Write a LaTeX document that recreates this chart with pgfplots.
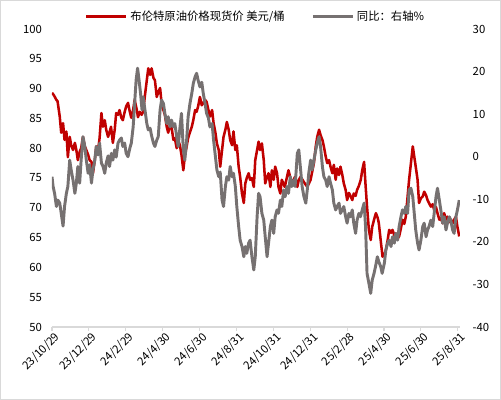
\documentclass[border=0pt]{standalone}
\usepackage{fontspec}
\setmainfont{Noto Sans CJK SC}
\usepackage{pgfplots}
\pgfplotsset{compat=1.18}
\usepackage{pgfplotstable}

\definecolor{brent}{RGB}{192,0,0}
\definecolor{yoy}{RGB}{118,113,113}
\definecolor{frame}{RGB}{217,217,217}

% x: position in tick intervals (0 = 23/10/29, 11 = 25/8/31)
\pgfplotstableread{
t v
0.00 89.3
0.05 88.9
0.12 88.1
0.15 87.9
0.21 85.3
0.25 82.6
0.30 84.2
0.34 81.4
0.39 82.8
0.43 78.5
0.48 81.9
0.52 80.5
0.57 79.7
0.62 80.9
0.66 79.7
0.70 78.0
0.75 79.4
0.79 80.0
0.84 81.9
0.89 80.3
0.93 79.7
0.98 78.9
1.02 78.0
1.07 77.7
1.11 75.8
1.16 78.0
1.20 80.3
1.25 79.7
1.29 81.7
1.34 85.9
1.38 83.6
1.43 84.7
1.47 83.1
1.52 81.9
1.56 82.7
1.60 83.6
1.65 80.9
1.70 83.1
1.74 85.9
1.79 85.6
1.83 86.4
1.88 85.1
1.92 84.7
1.97 86.1
2.01 87.0
2.06 87.6
2.11 86.1
2.15 85.1
2.20 86.4
2.24 88.1
2.30 86.4
2.33 85.2
2.38 86.1
2.43 85.6
2.47 86.1
2.52 88.9
2.57 91.4
2.61 93.4
2.66 92.3
2.70 93.4
2.75 91.8
2.79 91.4
2.84 88.6
2.88 89.4
2.93 90.1
2.97 87.6
3.02 86.4
3.06 85.6
3.11 83.6
3.15 82.6
3.20 83.9
3.24 83.6
3.29 81.4
3.33 81.7
3.38 80.0
3.42 81.4
3.47 80.4
3.51 78.9
3.56 76.3
3.60 78.6
3.65 80.3
3.69 81.7
3.74 82.7
3.79 83.6
3.83 84.7
3.88 86.4
3.92 86.1
3.96 87.0
4.01 88.6
4.06 87.2
4.10 87.6
4.15 88.1
4.19 87.8
4.24 86.4
4.28 85.3
4.34 86.4
4.38 84.2
4.43 82.6
4.47 80.8
4.52 79.7
4.56 76.9
4.61 79.7
4.65 81.9
4.70 83.1
4.74 84.4
4.79 83.1
4.83 81.4
4.88 80.5
4.92 82.8
4.97 79.7
5.01 80.5
5.06 76.9
5.10 75.2
5.15 72.4
5.20 70.8
5.24 74.1
5.28 75.0
5.33 75.8
5.37 74.7
5.42 75.0
5.47 73.5
5.51 78.0
5.56 79.7
5.60 81.1
5.64 79.7
5.69 80.8
5.74 78.0
5.78 74.1
5.83 75.2
5.87 75.8
5.92 73.5
5.96 76.3
6.01 74.7
6.05 76.9
6.10 75.8
6.14 73.5
6.19 72.4
6.23 74.7
6.31 73.5
6.41 76.3
6.50 74.1
6.59 75.2
6.65 73.5
6.69 74.7
6.74 75.2
6.83 74.3
6.92 73.5
7.01 74.7
7.10 77.5
7.15 80.3
7.19 81.9
7.24 83.1
7.28 82.2
7.33 81.4
7.37 80.3
7.42 78.6
7.46 77.5
7.51 78.0
7.55 76.9
7.60 75.8
7.64 77.2
7.69 74.7
7.73 76.6
7.78 75.5
7.82 76.9
7.87 75.5
7.91 74.1
7.96 73.0
8.00 71.3
8.05 72.5
8.09 72.0
8.14 71.3
8.18 72.4
8.23 72.0
8.27 73.0
8.32 73.7
8.37 74.7
8.41 76.3
8.46 77.7
8.50 73.8
8.54 70.2
8.59 66.3
8.64 64.6
8.68 66.8
8.73 68.0
8.78 69.1
8.83 68.3
8.86 67.4
8.92 64.0
8.96 61.8
9.01 62.1
9.05 62.9
9.10 64.6
9.14 66.3
9.19 65.8
9.23 66.3
9.28 65.4
9.32 65.7
9.37 64.9
9.41 65.2
9.46 66.6
9.50 68.0
9.55 67.3
9.59 68.5
9.64 71.9
9.68 74.7
9.73 77.5
9.78 80.3
9.82 78.6
9.86 76.9
9.91 74.7
9.95 70.8
10.00 71.6
10.05 71.9
10.09 72.7
10.14 72.1
10.18 71.3
10.22 70.8
10.27 70.2
10.32 70.6
10.36 69.6
10.41 70.1
10.45 69.1
10.50 68.0
10.54 68.3
10.59 67.4
10.63 69.1
10.68 68.0
10.72 68.5
10.77 67.6
10.81 68.0
10.86 67.4
10.90 68.0
10.95 68.5
10.99 66.8
11.04 65.2
}\brenttable

\pgfplotstableread{
t r
0.00 -4.7
0.03 -7.0
0.07 -8.6
0.12 -11.7
0.16 -10.2
0.21 -10.9
0.25 -13.3
0.30 -16.3
0.34 -11.7
0.39 -8.6
0.43 -7.0
0.48 -0.8
0.52 -3.1
0.57 -5.5
0.62 -8.6
0.66 -6.2
0.70 -2.3
0.75 -6.2
0.79 -0.8
0.84 4.7
0.89 2.4
0.93 -0.8
0.98 -3.9
1.02 -1.9
1.07 -6.2
1.11 -3.1
1.16 -0.8
1.20 2.4
1.25 0.4
1.29 3.2
1.34 -1.5
1.38 -2.2
1.43 -3.9
1.47 -1.5
1.52 0.2
1.56 -2.3
1.61 0.8
1.65 -0.8
1.70 1.6
1.74 -0.1
1.79 3.2
1.83 3.9
1.88 4.4
1.92 2.4
1.97 3.2
2.01 0.8
2.06 0.0
2.11 2.0
2.15 3.2
2.20 7.0
2.24 12.5
2.28 18.0
2.32 20.8
2.36 18.0
2.40 14.9
2.44 11.0
2.47 14.1
2.52 11.0
2.57 7.8
2.61 6.3
2.66 6.7
2.70 4.9
2.75 3.2
2.79 2.4
2.84 3.9
2.88 4.7
2.93 11.0
2.97 13.3
3.02 12.5
3.06 10.2
3.11 7.8
3.15 9.4
3.20 7.0
3.24 8.6
3.29 7.0
3.33 7.8
3.38 4.7
3.42 2.4
3.47 7.0
3.51 10.2
3.56 1.6
3.60 -0.8
3.65 3.9
3.69 9.4
3.74 12.5
3.79 14.9
3.83 17.2
3.88 18.8
3.92 19.6
3.96 18.0
4.01 16.4
4.06 17.5
4.10 14.9
4.15 12.5
4.19 10.2
4.24 9.1
4.28 7.0
4.34 7.8
4.38 3.9
4.43 0.0
4.47 -3.1
4.52 -4.7
4.56 -3.6
4.61 -10.2
4.65 -11.7
4.70 -7.0
4.74 -4.7
4.79 -5.5
4.83 -2.3
4.88 -4.7
4.92 -3.9
4.97 -7.0
5.01 -11.7
5.06 -16.4
5.10 -19.6
5.15 -21.1
5.20 -23.5
5.24 -21.1
5.28 -22.7
5.33 -20.3
5.37 -19.6
5.42 -23.5
5.47 -26.6
5.51 -23.5
5.56 -14.1
5.60 -8.6
5.64 -9.4
5.69 -13.3
5.74 -14.9
5.78 -18.8
5.83 -23.5
5.87 -20.3
5.92 -16.4
5.96 -14.9
6.01 -18.0
6.05 -14.1
6.10 -12.5
6.14 -13.3
6.19 -10.2
6.23 -11.7
6.28 -7.8
6.32 -9.4
6.37 -7.0
6.41 -8.6
6.46 -4.7
6.50 -7.0
6.55 -5.5
6.59 -7.0
6.65 0.8
6.69 1.6
6.74 -3.1
6.78 -7.0
6.83 -9.4
6.88 -10.9
6.92 -7.8
6.96 -3.9
7.01 -0.8
7.05 -3.1
7.10 -0.8
7.15 1.6
7.19 3.2
7.24 4.7
7.28 2.4
7.33 -2.3
7.37 -4.7
7.42 -5.5
7.46 -7.0
7.51 -4.7
7.55 -6.2
7.60 -7.8
7.64 -10.9
7.69 -12.5
7.73 -11.7
7.78 -10.9
7.82 -13.3
7.87 -12.5
7.91 -11.7
7.96 -14.1
8.00 -15.6
8.05 -13.3
8.09 -14.1
8.14 -12.5
8.18 -15.6
8.23 -18.0
8.27 -14.9
8.32 -13.3
8.36 -14.1
8.41 -12.5
8.46 -10.9
8.50 -16.4
8.54 -27.4
8.59 -29.7
8.64 -32.1
8.68 -29.0
8.73 -27.4
8.77 -25.8
8.82 -23.5
8.86 -24.7
8.91 -25.8
8.95 -27.4
9.01 -25.0
9.05 -21.9
9.10 -20.3
9.14 -19.6
9.19 -21.1
9.23 -18.8
9.28 -20.3
9.32 -18.0
9.37 -19.6
9.41 -16.4
9.46 -14.1
9.50 -12.5
9.55 -13.3
9.59 -11.7
9.64 -13.3
9.68 -7.8
9.73 -7.4
9.78 -9.4
9.82 -13.3
9.86 -17.2
9.91 -20.3
9.95 -21.9
10.00 -19.6
10.05 -16.4
10.09 -15.6
10.14 -18.8
10.18 -17.2
10.22 -16.4
10.27 -14.9
10.32 -16.4
10.36 -13.3
10.41 -9.4
10.45 -7.4
10.50 -10.2
10.54 -12.5
10.59 -15.6
10.63 -14.1
10.68 -17.2
10.72 -15.6
10.77 -14.1
10.81 -14.9
10.86 -17.2
10.90 -18.0
10.95 -14.1
10.99 -12.5
11.04 -10.2
}\yoytable

\pgfplotsset{
  common/.style={
    scale only axis,
    width=306pt, height=223.5pt,
    xmin=0, xmax=11.06,
    /pgf/number format/assume math mode=true,
    tick label style={font=\fontsize{8.5}{10}\selectfont},
  },
}

\begin{document}
\begin{tikzpicture}[font=\fontsize{8.5}{10}\selectfont]
\useasboundingbox (-39pt,-54.75pt) rectangle (336.75pt,245.25pt);
\draw[frame, line width=1pt] (-38.5pt,-54.25pt) rectangle (336.25pt,244.75pt);

\begin{axis}[
  common,
  ymin=50, ymax=100,
  ytick={50,55,...,100},
  axis x line*=bottom,
  axis y line*=left,
  x axis line style={draw=frame, line width=0.8pt, -},
  y axis line style={draw=none},
  ytick style={draw=none},
  xtick={0,...,11},
  xticklabels={23/10/29,23/12/29,24/2/29,24/4/30,24/6/30,24/8/31,24/10/31,24/12/31,25/2/28,25/4/30,25/6/30,25/8/31},
  xtick style={draw=frame, line width=0.8pt},
  tick align=outside,
  major tick length=3pt,
  xticklabel style={rotate=45, anchor=north east, inner sep=1pt, xshift=2pt},
  yticklabel style={xshift=-1pt},
  legend style={at={(0.5,1)}, anchor=south, yshift=1pt, draw=none, fill=none,
    legend columns=2, font=\fontsize{8.5}{10}\selectfont,
    /tikz/every even column/.append style={column sep=18pt}},
  legend image code/.code={\draw[#1] (0pt,0pt) -- (30pt,0pt);},
]
\addplot[brent, line width=1.9pt, line join=round] table[x=t, y=v] {\brenttable};
\addlegendentry{布伦特原油价格现货价 美元/桶}
\addlegendimage{yoy, line width=2.2pt}
\addlegendentry{同比：右轴\%}
\end{axis}

\begin{axis}[
  common,
  ymin=-40, ymax=30,
  ytick={-40,-30,...,30},
  axis x line=none,
  axis y line*=right,
  y axis line style={draw=none},
  ytick style={draw=none},
  yticklabel style={xshift=6pt},
]
\addplot[yoy, line width=2.2pt, line join=round] table[x=t, y=r] {\yoytable};
\end{axis}
\end{tikzpicture}
\end{document}
